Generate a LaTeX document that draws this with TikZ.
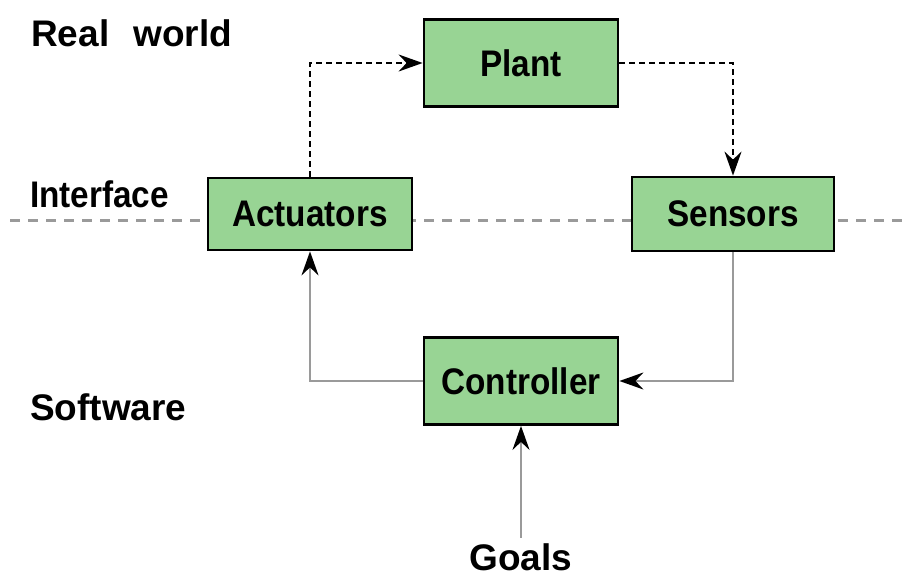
\documentclass[tikz,border=0pt]{standalone}
\usepackage{fontspec}
\setmainfont{Liberation Sans}
\newfontfamily\narrowsans{Liberation Sans}[FakeStretch=0.9]
\usetikzlibrary{arrows.meta}
\definecolor{boxgreen}{HTML}{98D494}
\definecolor{linegray}{HTML}{9A9A9A}
\tikzset{
  block/.style={draw=black,line width=2.8pt,fill=boxgreen,inner sep=0pt,
    font=\narrowsans\fontsize{37}{42}\selectfont\bfseries},
  tag/.style={font=\fontsize{37}{42}\selectfont\bfseries,inner sep=0pt,anchor=base west},
  tip/.style={-{Stealth[length=24pt,width=17pt,inset=8pt,black]}},
  dotarrow/.style={tip,line width=2pt,dash pattern=on 6pt off 4pt},
  grayarrow/.style={tip,line width=2pt,draw=linegray},
}
\begin{document}
\begin{tikzpicture}[x=1pt,y=-1pt]
\useasboundingbox (0,0) rectangle (906,578);
%interface
\draw[linegray,line width=3pt,dash pattern=on 10pt off 8pt](10,220)--(906,220);
%blocks
\node[block,minimum width=194pt,minimum height=87pt](plant) at (521,63){Plant};
\node[block,minimum width=204pt,minimum height=72pt](act) at (310,214){Actuators};
\node[block,minimum width=202pt,minimum height=74pt](sens) at (733,214){Sensors};
\node[block,minimum width=194pt,minimum height=87pt](ctrl) at (521,381){Controller};
%labels
\node[tag](real) at (31,47){Real\hspace{24pt}world};
\node[tag,font=\narrowsans\fontsize{37}{42}\selectfont\bfseries](iface) at (30,207){Interface};
\node[tag](soft) at (30,420){Software};
\node[tag,anchor=base,inner sep=5pt](goals) at (521,570){Goals};
%loop
\draw[dotarrow](act.north)|-(plant.west);
\draw[dotarrow](plant.east)-|(sens.north);
\draw[grayarrow](sens.south)|-(ctrl.east);
\draw[grayarrow](ctrl.west)-|(act.south);
\draw[grayarrow](goals.north)--(ctrl.south);
\end{tikzpicture}
\end{document}
